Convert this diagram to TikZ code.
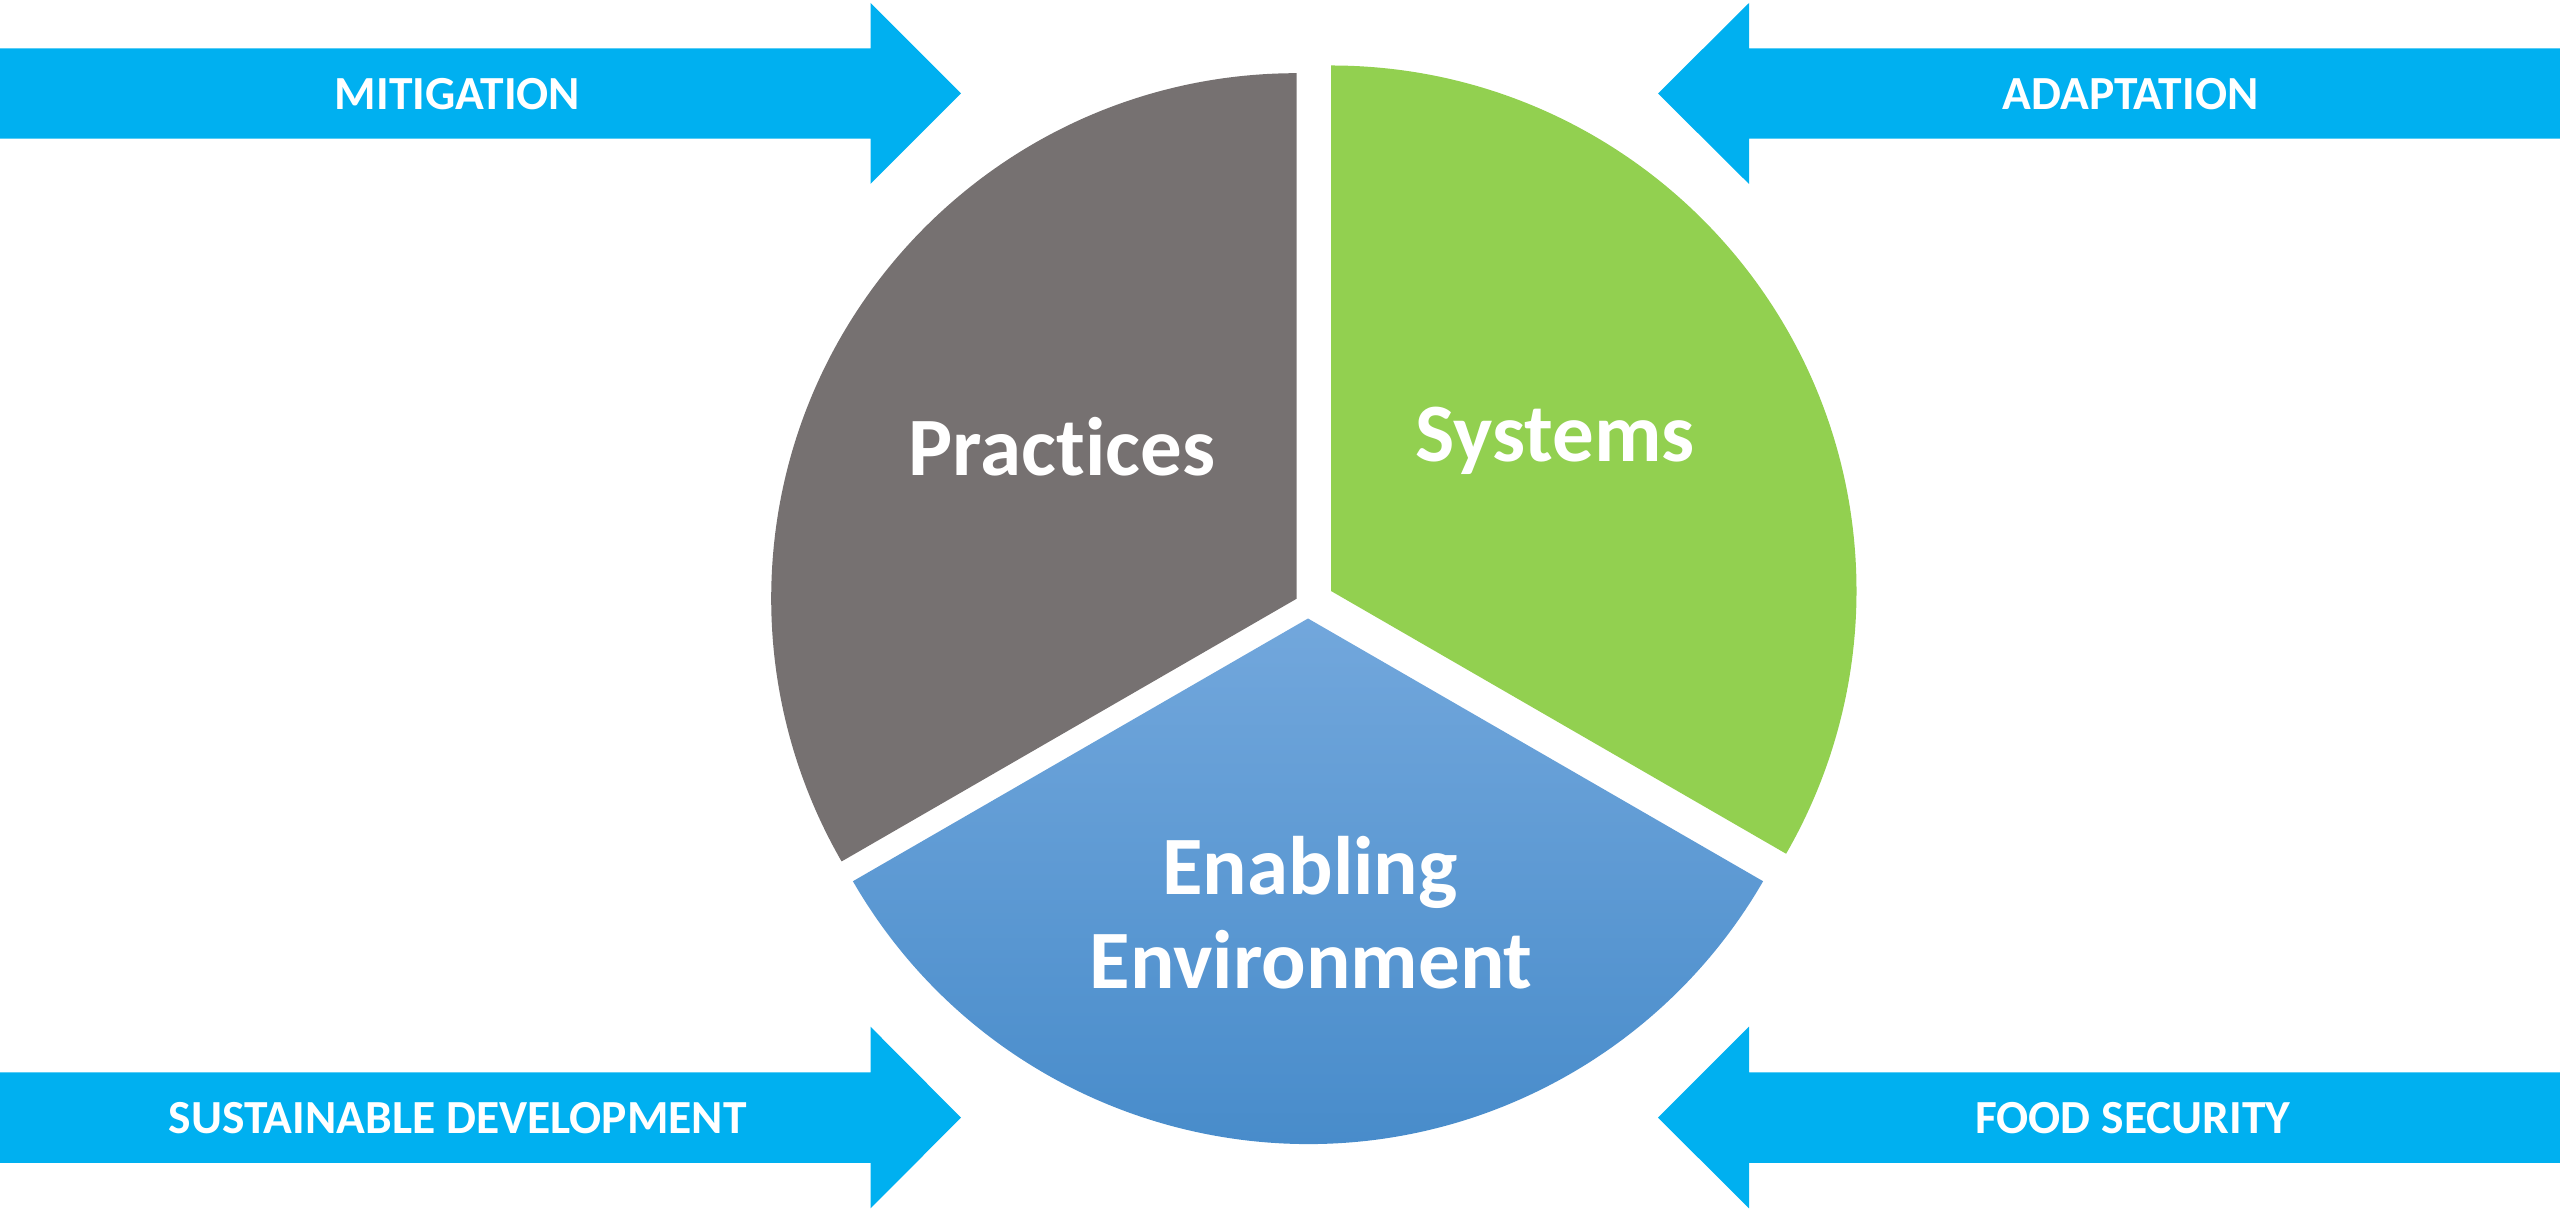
\documentclass[tikz,border=0pt]{standalone}
\usepackage{fontspec}
\setmainfont{Carlito}[Ligatures={NoCommon}]
\definecolor{arrowblue}{HTML}{00B0F0}
\definecolor{pgray}{HTML}{767171}
\definecolor{sgreen}{HTML}{92D050}
\definecolor{etop}{RGB}{114,167,220}
\definecolor{ebot}{RGB}{66,136,200}
\tikzset{
  bigarrow/.style={fill=arrowblue, draw=none},
  arrowlabel/.style={text=white, font=\fontsize{47.5}{55}\selectfont\bfseries, anchor=base, inner sep=0pt},
  pielabel/.style={text=white, font=\fontsize{83}{93}\selectfont\bfseries, anchor=base, inner sep=0pt},
}
\begin{document}
\begin{tikzpicture}[x=1pt,y=1pt]
\useasboundingbox (0,0) rectangle (2560,1210);
% arrows
\fill[bigarrow] (0,1071.3) -- (870.5,1071.3) -- (870.5,1026) -- (961,1116.5) -- (870.5,1207) -- (870.5,1161.7) -- (0,1161.7) -- cycle;
\fill[bigarrow] (0,47) -- (870.5,47) -- (870.5,1.7) -- (961,92.3) -- (870.5,183.3) -- (870.5,137.7) -- (0,137.7) -- cycle;
\fill[bigarrow] (2560,1071.3) -- (1749,1071.3) -- (1749,1026) -- (1658,1116.5) -- (1749,1207) -- (1749,1161.7) -- (2560,1161.7) -- cycle;
\fill[bigarrow] (2560,47) -- (1749,47) -- (1749,1.7) -- (1658,92.3) -- (1749,183.3) -- (1749,137.7) -- (2560,137.7) -- cycle;
\node[arrowlabel] (mit) at (457.6,1100) {MITIGATION};
\node[arrowlabel] (sus) at (457.6,76) {SUSTAINABLE DEVELOPMENT};
\node[arrowlabel] (ada) at (2130.6,1100) {ADAPTATION};
\node[arrowlabel] (food) at (2132.8,76) {FOOD SECURITY};
% pie sectors
\coordinate (P) at (1296.7,611.3);
\coordinate (S) at (1331,619);
\coordinate (E) at (1308,591.5);
\fill[pgray] (P) -- ++(90:525.5) arc (90:210:525.5) -- cycle;
\fill[sgreen] (S) -- ++(90:525.5) arc (90:-30:525.5) -- cycle;
\shade[top color=etop, bottom color=ebot] (E) -- ++(210:525.5) arc (210:330:525.5) -- cycle;
\node[pielabel] (prac) at (1062,734) {Practices};
\node[pielabel] (sys) at (1555,748.3) {Systems};
\node[pielabel] (enab) at (1310,315) {Enabling};
\node[pielabel] (env) at (1311,221.7) {Environment};
\end{tikzpicture}
\end{document}
